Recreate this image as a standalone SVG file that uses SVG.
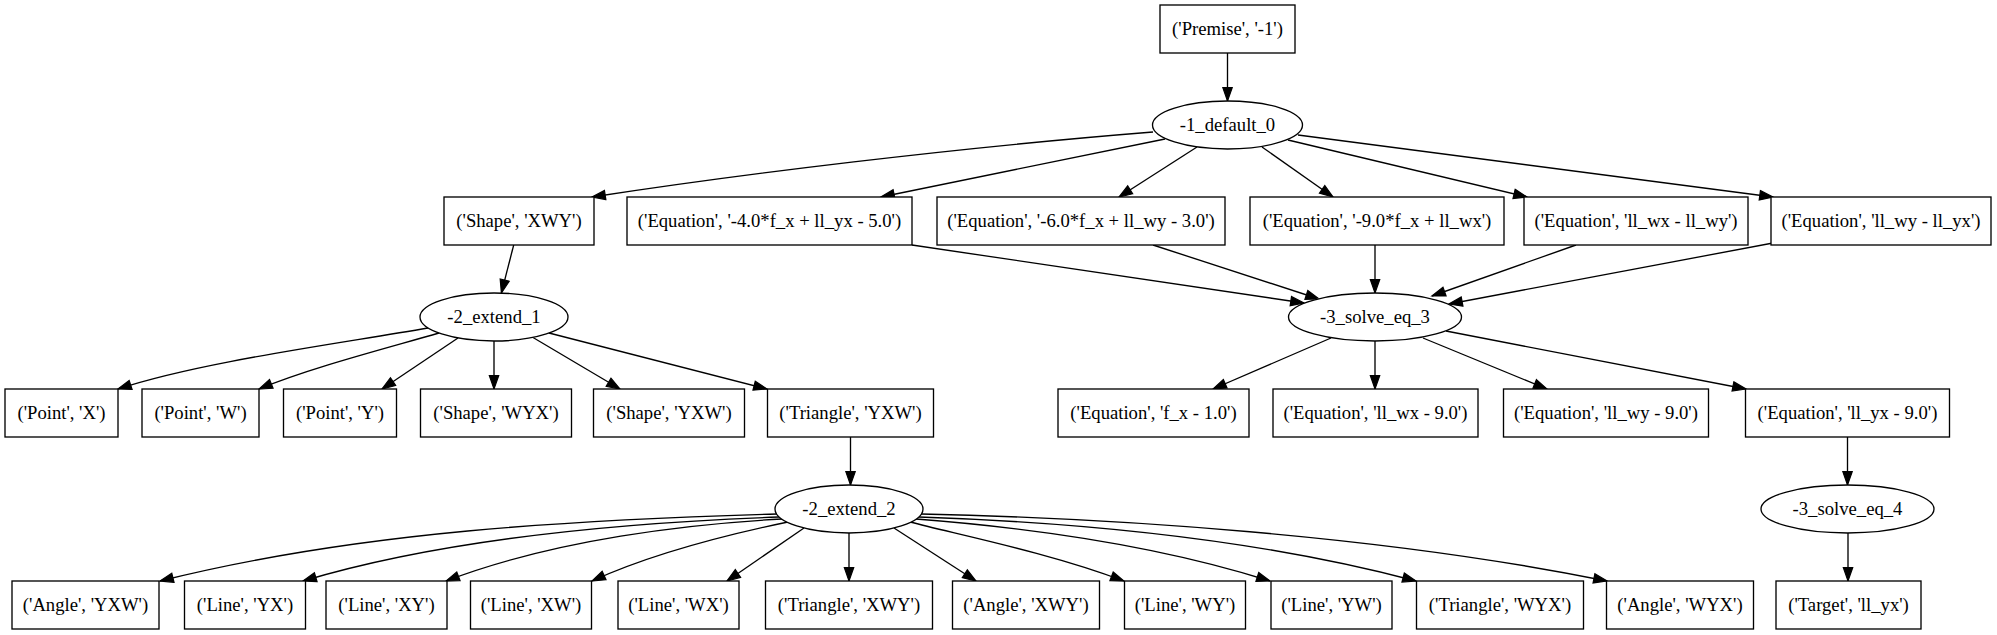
<svg xmlns="http://www.w3.org/2000/svg" width="1997" height="635" viewBox="0 0 1997 635">
<defs>
<marker id="arr" markerUnits="userSpaceOnUse" markerWidth="15" markerHeight="11" refX="13.3" refY="4.67" orient="auto" overflow="visible">
<path d="M0,0 L13.3,4.67 L0,9.33 Z" fill="#000" stroke="#000" stroke-width="1.2"/>
</marker>
<style>
.n rect, .n ellipse { fill: #fff; stroke: #000; stroke-width: 1.33; }
.n text { font-family: 'Liberation Serif', 'DejaVu Serif', serif; font-size: 18.67px; text-anchor: middle; fill: #000; }
.e path { fill: none; stroke: #000; stroke-width: 1.33; marker-end: url(#arr); }
</style>
</defs>
<rect width="1997" height="635" fill="#fff"/>
<g id="edges" class="e">
<path d="M1227.5,53 L1227.5,101"/>
<path d="M1153,132 C953,148 742,174 592,197"/>
<path d="M1165,139 L881,197"/>
<path d="M1197,147 L1119,197"/>
<path d="M1262,147 L1333,197"/>
<path d="M1288,140 L1527,197"/>
<path d="M1298,135 L1773,197"/>
<path d="M513.7,245 L501.4,293"/>
<path d="M912,245 L1304,303"/>
<path d="M1153,245 L1319,299"/>
<path d="M1375,245 L1375,293"/>
<path d="M1576,245 L1432,296"/>
<path d="M1773,243 L1449,304"/>
<path d="M428,328 C330,345 200,362 118,389"/>
<path d="M439,333 C380,350 310,368 259,389"/>
<path d="M458,338 L382,389"/>
<path d="M494,341 L494,389"/>
<path d="M533,337.5 L620,389"/>
<path d="M549,333 L767,389"/>
<path d="M1331,338 L1213,389"/>
<path d="M1375,341 L1375,389"/>
<path d="M1423,338 L1547,389"/>
<path d="M1446,331 L1746,389"/>
<path d="M850.5,437 L850.5,485"/>
<path d="M1847.5,437 L1847.5,485"/>
<path d="M777,514 C575,520 360,531 160,581"/>
<path d="M779,517 C640,522 453,536 303,581"/>
<path d="M782,519 C690,524 556,539 446,581"/>
<path d="M788,522 C740,532 660,550 592,581"/>
<path d="M804,528 L727,581"/>
<path d="M849,533 L849,581"/>
<path d="M894,528 L976,581"/>
<path d="M910,522 C960,535 1050,553 1124,581"/>
<path d="M916,519 C1020,527 1150,543 1270,581"/>
<path d="M919,517 C1070,522 1250,537 1416,581"/>
<path d="M921,514 C1110,518 1380,535 1607,581"/>
<path d="M1848,533 L1848,581"/>
</g>
<g id="nodes" font-family="'Liberation Serif', 'DejaVu Serif', serif" font-size="18.67">
<g id="n_premise" class="n"><rect x="1160" y="5" width="135" height="48"/><text x="1227.5" y="34.5">('Premise', '-1')</text></g>
<g id="n_default_0" class="n"><ellipse cx="1227.5" cy="125" rx="75" ry="24"/><text x="1227.5" y="130.5">-1_default_0</text></g>
<g id="n_shape_xwy" class="n"><rect x="444" y="197" width="150" height="48"/><text x="519" y="226.5">('Shape', 'XWY')</text></g>
<g id="n_eq_m4" class="n"><rect x="627" y="197" width="285" height="48"/><text x="769.5" y="226.5">('Equation', '-4.0*f_x + ll_yx - 5.0')</text></g>
<g id="n_eq_m6" class="n"><rect x="937" y="197" width="288" height="48"/><text x="1081" y="226.5">('Equation', '-6.0*f_x + ll_wy - 3.0')</text></g>
<g id="n_eq_m9" class="n"><rect x="1250" y="197" width="254" height="48"/><text x="1377" y="226.5">('Equation', '-9.0*f_x + ll_wx')</text></g>
<g id="n_eq_wx_wy" class="n"><rect x="1524" y="197" width="224" height="48"/><text x="1636" y="226.5">('Equation', 'll_wx - ll_wy')</text></g>
<g id="n_eq_wy_yx" class="n"><rect x="1771" y="197" width="220" height="48"/><text x="1881" y="226.5">('Equation', 'll_wy - ll_yx')</text></g>
<g id="n_extend_1" class="n"><ellipse cx="494" cy="317" rx="74" ry="24"/><text x="494" y="322.5">-2_extend_1</text></g>
<g id="n_solve_eq_3" class="n"><ellipse cx="1375" cy="317" rx="86.5" ry="24"/><text x="1375" y="322.5">-3_solve_eq_3</text></g>
<g id="n_point_x" class="n"><rect x="5" y="389" width="113" height="48"/><text x="61.5" y="418.5">('Point', 'X')</text></g>
<g id="n_point_w" class="n"><rect x="142" y="389" width="117" height="48"/><text x="200.5" y="418.5">('Point', 'W')</text></g>
<g id="n_point_y" class="n"><rect x="283.5" y="389" width="113" height="48"/><text x="340" y="418.5">('Point', 'Y')</text></g>
<g id="n_shape_wyx" class="n"><rect x="420.5" y="389" width="151" height="48"/><text x="496" y="418.5">('Shape', 'WYX')</text></g>
<g id="n_shape_yxw" class="n"><rect x="593.5" y="389" width="151" height="48"/><text x="669" y="418.5">('Shape', 'YXW')</text></g>
<g id="n_tri_yxw" class="n"><rect x="767.5" y="389" width="166" height="48"/><text x="850.5" y="418.5">('Triangle', 'YXW')</text></g>
<g id="n_eq_fx" class="n"><rect x="1058" y="389" width="191" height="48"/><text x="1153.5" y="418.5">('Equation', 'f_x - 1.0')</text></g>
<g id="n_eq_wx" class="n"><rect x="1273" y="389" width="205" height="48"/><text x="1375.5" y="418.5">('Equation', 'll_wx - 9.0')</text></g>
<g id="n_eq_wy" class="n"><rect x="1503.5" y="389" width="205" height="48"/><text x="1606" y="418.5">('Equation', 'll_wy - 9.0')</text></g>
<g id="n_eq_yx" class="n"><rect x="1745.5" y="389" width="204" height="48"/><text x="1847.5" y="418.5">('Equation', 'll_yx - 9.0')</text></g>
<g id="n_extend_2" class="n"><ellipse cx="849" cy="509" rx="74" ry="24"/><text x="849" y="514.5">-2_extend_2</text></g>
<g id="n_solve_eq_4" class="n"><ellipse cx="1847.5" cy="509" rx="86.5" ry="24"/><text x="1847.5" y="514.5">-3_solve_eq_4</text></g>
<g id="n_angle_yxw" class="n"><rect x="12" y="581" width="147" height="48"/><text x="85.5" y="610.5">('Angle', 'YXW')</text></g>
<g id="n_line_yx" class="n"><rect x="184.5" y="581" width="121" height="48"/><text x="245" y="610.5">('Line', 'YX')</text></g>
<g id="n_line_xy" class="n"><rect x="326" y="581" width="121" height="48"/><text x="386.5" y="610.5">('Line', 'XY')</text></g>
<g id="n_line_xw" class="n"><rect x="470.5" y="581" width="121" height="48"/><text x="531" y="610.5">('Line', 'XW')</text></g>
<g id="n_line_wx" class="n"><rect x="618" y="581" width="121" height="48"/><text x="678.5" y="610.5">('Line', 'WX')</text></g>
<g id="n_tri_xwy" class="n"><rect x="765.5" y="581" width="167" height="48"/><text x="849" y="610.5">('Triangle', 'XWY')</text></g>
<g id="n_angle_xwy" class="n"><rect x="952.5" y="581" width="147" height="48"/><text x="1026" y="610.5">('Angle', 'XWY')</text></g>
<g id="n_line_wy" class="n"><rect x="1124.5" y="581" width="121" height="48"/><text x="1185" y="610.5">('Line', 'WY')</text></g>
<g id="n_line_yw" class="n"><rect x="1271" y="581" width="121" height="48"/><text x="1331.5" y="610.5">('Line', 'YW')</text></g>
<g id="n_tri_wyx" class="n"><rect x="1416.5" y="581" width="167" height="48"/><text x="1500" y="610.5">('Triangle', 'WYX')</text></g>
<g id="n_angle_wyx" class="n"><rect x="1606.5" y="581" width="147" height="48"/><text x="1680" y="610.5">('Angle', 'WYX')</text></g>
<g id="n_target" class="n"><rect x="1776" y="581" width="145" height="48"/><text x="1848.5" y="610.5">('Target', 'll_yx')</text></g>
</g>
</svg>
